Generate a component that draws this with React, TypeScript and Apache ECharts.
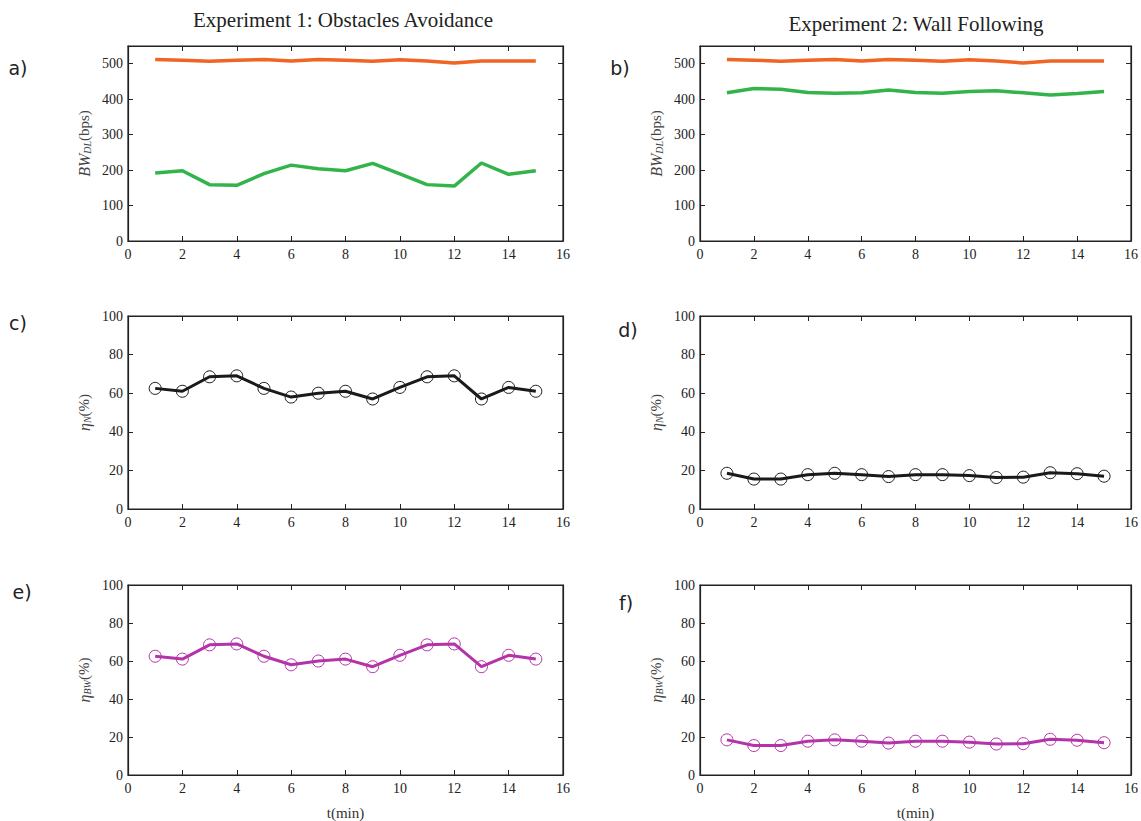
import React, { useEffect, useRef } from "react";
import * as echarts from "echarts";

const minutes = [1, 2, 3, 4, 5, 6, 7, 8, 9, 10, 11, 12, 13, 14, 15];
const xTicks = [0, 2, 4, 6, 8, 10, 12, 14, 16];

// Experiment 1: Obstacles Avoidance
const exp1BwOrange = [512, 510, 507, 510, 512, 508, 512, 510, 507, 511, 508, 502, 508, 508, 508];
const exp1BwGreen = [192, 198, 159, 157, 190, 214, 204, 198, 219, 189, 159, 155, 220, 188, 198];
const exp1EtaN = [62.5, 61, 68.5, 69, 62.5, 58, 60, 61, 57, 63, 68.5, 69, 57, 63, 61];
const exp1EtaBW = [62.5, 61, 68.5, 69, 62.5, 58, 60, 61, 57, 63, 68.5, 69, 57, 63, 61];

// Experiment 2: Wall Following
const exp2BwOrange = [512, 510, 507, 510, 512, 508, 512, 510, 507, 511, 508, 502, 508, 508, 508];
const exp2BwGreen = [418, 430, 428, 419, 417, 418, 426, 419, 417, 422, 424, 418, 412, 416, 422];
const exp2EtaN = [18.5, 15.5, 15.5, 17.8, 18.5, 17.8, 16.8, 17.8, 17.8, 17.3, 16.3, 16.5, 18.8, 18.3, 17];
const exp2EtaBW = [18.5, 15.5, 15.5, 17.8, 18.5, 17.8, 16.8, 17.8, 17.8, 17.3, 16.3, 16.5, 18.8, 18.3, 17];

const titles = ["Experiment 1: Obstacles Avoidance", "Experiment 2: Wall Following"];
const panelLabels = ["a)", "b)", "c)", "d)", "e)", "f)"];

const FONT = "Liberation Serif";
const ORANGE = "#f06424";
const GREEN = "#33b44a";
const BLACK = "#1a1a1a";
const MAGENTA = "#b433a8";

const pair = (ys: number[]) => minutes.map((m, i) => [m, ys[i]]);

export default function App() {
  const ref = useRef<HTMLDivElement>(null);
  useEffect(() => {
    if (!ref.current) return;
    const chart = echarts.init(ref.current, null, { renderer: "svg" });

    const grids = [
      { left: 128, top: 46, width: 435, height: 195 },
      { left: 700, top: 46, width: 433, height: 195 },
      { left: 128, top: 316, width: 435, height: 193 },
      { left: 700, top: 316, width: 433, height: 193 },
      { left: 128, top: 585, width: 435, height: 194 },
      { left: 700, top: 585, width: 433, height: 194 },
    ].map((g) => ({ ...g, show: true, borderColor: "#222", borderWidth: 1.2, backgroundColor: "#fff" }));

    const yMax = [550, 550, 100, 100, 100, 100];
    const yInt = [100, 100, 20, 20, 20, 20];

    const rich = {
      it: { fontFamily: FONT, fontStyle: "italic", fontSize: 16, color: "#444" },
      sub: { fontFamily: FONT, fontStyle: "italic", fontSize: 10, color: "#444", padding: [6, 0, 0, 0] },
      n: { fontFamily: FONT, fontSize: 15, color: "#444" },
    };
    const yNames = [
      "{it|BW}{sub|DL}{n|(bps)}",
      "{it|BW}{sub|DL}{n|(bps)}",
      "{it|η}{sub|N}{n|(%)}",
      "{it|η}{sub|N}{n|(%)}",
      "{it|η}{sub|BW}{n|(%)}",
      "{it|η}{sub|BW}{n|(%)}",
    ];

    const labelStyle = { fontFamily: FONT, fontSize: 14, color: "#222" };
    const tick = { show: true, inside: true, length: 5, lineStyle: { color: "#222" } };
    const line = { show: true, onZero: false, lineStyle: { color: "#222", width: 1.2 } };

    const xAxis: any[] = [];
    const yAxis: any[] = [];
    grids.forEach((_, i) => {
      xAxis.push({
        type: "value",
        gridIndex: i,
        min: 0,
        max: 16,
        interval: 2,
        position: "bottom",
        axisLine: line,
        axisTick: tick,
        splitLine: { show: false },
        axisLabel: { ...labelStyle, margin: 6, formatter: (v: number) => (xTicks.includes(v) ? String(v) : "") },
        name: i >= 4 ? "t(min)" : "",
        nameLocation: "middle",
        nameGap: 30,
        nameTextStyle: { fontFamily: FONT, fontSize: 15, color: "#333" },
      });
      xAxis.push({
        type: "value",
        gridIndex: i,
        min: 0,
        max: 16,
        interval: 2,
        position: "top",
        axisLine: line,
        axisTick: tick,
        splitLine: { show: false },
        axisLabel: { show: false },
      });
      yAxis.push({
        type: "value",
        gridIndex: i,
        min: 0,
        max: yMax[i],
        interval: yInt[i],
        position: "left",
        axisLine: line,
        axisTick: tick,
        splitLine: { show: false },
        axisLabel: { ...labelStyle, margin: 5, showMaxLabel: yMax[i] === 100 },
        name: yNames[i],
        nameLocation: "middle",
        nameGap: 36,
        nameRotate: 90,
        nameTextStyle: { rich },
      });
      yAxis.push({
        type: "value",
        gridIndex: i,
        min: 0,
        max: yMax[i],
        interval: yInt[i],
        position: "right",
        axisLine: line,
        axisTick: tick,
        splitLine: { show: false },
        axisLabel: { show: false },
      });
    });

    const plain = (gi: number, data: number[], color: string) => ({
      type: "line",
      xAxisIndex: gi * 2,
      yAxisIndex: gi * 2,
      data: pair(data),
      showSymbol: false,
      symbol: "none",
      lineStyle: { color, width: 3.5 },
      itemStyle: { color },
    });
    const marked = (gi: number, data: number[], color: string) => ({
      type: "line",
      xAxisIndex: gi * 2,
      yAxisIndex: gi * 2,
      data: pair(data),
      symbol: "circle",
      symbolSize: 12,
      showSymbol: true,
      lineStyle: { color, width: 3 },
      itemStyle: { color: "none", borderColor: color, borderWidth: 1 },
    });

    const series = [
      plain(0, exp1BwOrange, ORANGE),
      plain(0, exp1BwGreen, GREEN),
      plain(1, exp2BwOrange, ORANGE),
      plain(1, exp2BwGreen, GREEN),
      marked(2, exp1EtaN, BLACK),
      marked(3, exp2EtaN, BLACK),
      marked(4, exp1EtaBW, MAGENTA),
      marked(5, exp2EtaBW, MAGENTA),
    ];

    const labelPos = [
      [18, 68],
      [620, 68],
      [18, 323],
      [628, 330],
      [22, 592],
      [626, 603],
    ];
    const graphic: any[] = [
      {
        type: "text",
        x: 343,
        y: 20,
        style: { text: titles[0], fontFamily: FONT, fontSize: 21, fill: "#222", textAlign: "center", textVerticalAlign: "middle" },
      },
      {
        type: "text",
        x: 916,
        y: 24,
        style: { text: titles[1], fontFamily: FONT, fontSize: 21, fill: "#222", textAlign: "center", textVerticalAlign: "middle" },
      },
      ...panelLabels.map((t, i) => ({
        type: "text",
        x: labelPos[i][0],
        y: labelPos[i][1],
        style: { text: t, fontFamily: "DejaVu Sans", fontSize: 19, fill: "#222", textAlign: "center", textVerticalAlign: "middle" },
      })),
    ];

    chart.setOption({
      animation: false,
      backgroundColor: "#fff",
      grid: grids,
      xAxis,
      yAxis,
      series,
      graphic,
    });
    return () => chart.dispose();
  }, []);
  return <div ref={ref} style={{ position: "fixed", left: 0, top: 0, width: 1141, height: 821 }} />;
}
